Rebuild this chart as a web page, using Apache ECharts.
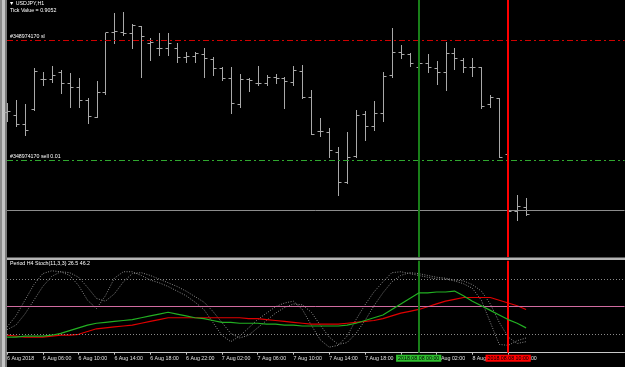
<!DOCTYPE html>
<html><head><meta charset="utf-8">
<script src="https://cdn.jsdelivr.net/npm/echarts@6/dist/echarts.min.js"></script>
<style>html,body{margin:0;padding:0;background:#000;}#c{width:625px;height:367px;}</style>
</head><body><div id="c"></div>
<script>
// USDJPY H1 bars, index = hours since 6 Aug 2018 02:00
const barOpen  = [111.488,111.485,111.476,111.491,111.521,111.521,111.528,111.517,111.513,111.500,111.483,111.508,111.568,111.568,111.567,111.574,111.557,111.552,111.552,111.552,111.543,111.544,111.546,111.541,111.532,111.522,111.496,111.521,111.517,111.517,111.523,111.522,111.518,111.529,111.503,111.469,111.468,111.448,111.418,111.444,111.486,111.474,111.487,111.525,111.548,111.546,111.533,111.537,111.532,111.528,111.547,111.540,111.533,111.533,111.496,111.502,111.446,111.389,111.393];
const barHigh  = [111.497,111.500,111.496,111.532,111.528,111.534,111.530,111.527,111.522,111.502,111.519,111.567,111.587,111.588,111.576,111.574,111.562,111.567,111.567,111.557,111.548,111.548,111.552,111.543,111.533,111.533,111.526,111.522,111.534,111.525,111.526,111.523,111.534,111.535,111.510,111.482,111.472,111.453,111.468,111.490,111.489,111.499,111.528,111.572,111.555,111.547,111.545,111.546,111.539,111.558,111.552,111.542,111.542,111.533,111.505,111.502,111.448,111.405,111.402];
const barLow   = [111.479,111.474,111.465,111.490,111.515,111.518,111.507,111.493,111.493,111.477,111.483,111.506,111.557,111.565,111.552,111.523,111.540,111.545,111.545,111.538,111.538,111.538,111.523,111.525,111.520,111.487,111.493,111.509,111.515,111.515,111.517,111.492,111.515,111.502,111.466,111.464,111.443,111.405,111.417,111.443,111.460,111.470,111.479,111.523,111.542,111.534,111.523,111.528,111.516,111.510,111.531,111.528,111.524,111.492,111.493,111.443,111.387,111.380,111.385];
const barClose = [111.489,111.476,111.470,111.529,111.521,111.525,111.517,111.513,111.500,111.484,111.508,111.568,111.569,111.567,111.575,111.564,111.558,111.552,111.557,111.543,111.544,111.547,111.542,111.532,111.522,111.497,111.521,111.520,111.517,111.523,111.522,111.519,111.530,111.503,111.466,111.469,111.450,111.418,111.443,111.485,111.474,111.487,111.524,111.548,111.546,111.537,111.537,111.533,111.528,111.547,111.542,111.533,111.533,111.494,111.503,111.443,111.389,111.394,111.386];

// Stochastic values per bar
const stochMain   = [28,40,57,74,86,89,88,84,73,57,48,62,81,88,88,84,79,76,72,67,62,55,47,33,19,12,18,27,36,43,50,54,56,47,30,14,6,8,18,36,52,66,77,87,88,86,84,82,80,80,78,75,70,57,33,9,8,13,16];
const stochSignal = [25,30,42,57,72,83,88,87,82,71,59,56,64,77,86,87,84,80,76,72,67,61,55,45,33,21,16,19,27,35,43,49,53,52,44,30,17,9,11,21,35,51,65,77,84,87,86,84,82,81,79,78,74,67,53,33,17,10,12];
const h4Main      = [17,17,18,18,18,19,21,24,27,30,32,33,34,35,36,38,40,42,44,42,40,38,37,35,33,33,32,32,32,31,31,30,30,29,29,29,29,29,30,32,35,38,41,47,53,59,65,65,66,66,67,62,56,51,46,41,36,32,27];
const h4Signal    = [19,18,17,17,17,18,19,19,20,23,26,27,28,29,30,32,34,36,38,38,38,38,38,38,38,38,38,37,37,36,35,34,33,32,31,31,31,31,32,33,34,35,37,40,43,45,47,50,53,56,58,60,60,60,60,57,54,51,47];
const stochLevels = [80, 20];
const stochMid = 50;

// time axis
const tickHours  = [0,4,8,12,16,20,24,28,32,36,40,44,48,52,56];
const tickLabels = ['6 Aug 2018','6 Aug 06:00','6 Aug 10:00','6 Aug 14:00','6 Aug 18:00','6 Aug 22:00','7 Aug 02:00','7 Aug 06:00','7 Aug 10:00','7 Aug 14:00','7 Aug 18:00','7 Aug 22:00','8 Aug 02:00','8 Aug 06:00','8 Aug 10:00'];

// order / marker lines
const slPrice = 111.557, sellPrice = 111.439, bidPrice = 111.386;
const greenMarkerHour = 46, greenMarkerLabel = '2018.08.08 00:00';
const redMarkerHour = 56, redMarkerLabel = '2018.08.08 10:00';

const FONT = 'Liberation Sans';
const FS = 5.3;

const ohlcData = barOpen.map((o, i) => [i, o, barHigh[i], barLow[i], barClose[i]]);
const idx = barOpen.map((_, i) => i);

function renderOHLC(params, api) {
  const t = api.value(0);
  const pO = api.coord([t, api.value(1)]);
  const pH = api.coord([t, api.value(2)]);
  const pL = api.coord([t, api.value(3)]);
  const pC = api.coord([t, api.value(4)]);
  const x = Math.round(pH[0]) + 0.5;
  const st = { stroke: '#a9a9a9', lineWidth: 1 };
  const yo = Math.round(pO[1]) + 0.5, yc = Math.round(pC[1]) + 0.5;
  return { type: 'group', children: [
    { type: 'line', shape: { x1: x, y1: Math.round(pH[1]), x2: x, y2: Math.round(pL[1]) + 1 }, style: st },
    { type: 'line', shape: { x1: x - 3, y1: yo, x2: x, y2: yo }, style: st },
    { type: 'line', shape: { x1: x, y1: yc, x2: x + 3, y2: yc }, style: st }
  ]};
}

const vLine = (hour, color) => ({ xAxis: hour, lineStyle: { color: color, width: 2, type: 'solid' } });

const chart = echarts.init(document.getElementById('c'), null, { renderer: 'canvas' });
chart.setOption({
  backgroundColor: '#000',
  animation: false,
  textStyle: { fontFamily: FONT },
  grid: [
    { left: 7, top: 0, width: 617.55, height: 257 },
    { left: 7, top: 260.7, width: 617.55, height: 92 }
  ],
  xAxis: [
    { gridIndex: 0, type: 'value', min: 0, max: 69, show: false },
    { gridIndex: 1, type: 'value', min: 0, max: 69, interval: 4,
      axisLine: { show: true, lineStyle: { color: '#c8c8c8', width: 1 } },
      axisTick: { show: true, customValues: tickHours, length: 2, lineStyle: { color: '#c8c8c8' } },
      axisLabel: { show: true, customValues: tickHours, color: '#e0e0e0', fontSize: FS, fontFamily: FONT, align: 'left', margin: 3,
        formatter: v => { const k = tickHours.indexOf(v); return k >= 0 ? tickLabels[k] : ''; } },
      splitLine: { show: false } }
  ],
  yAxis: [
    { gridIndex: 0, type: 'value', min: 111.343, max: 111.600, show: false },
    { gridIndex: 1, type: 'value', min: 0, max: 100, show: false }
  ],
  graphic: [
    { type: 'rect', left: 0, top: 0, shape: { width: 2, height: 367 }, style: { fill: '#8c8c8c' }, silent: true },
    { type: 'rect', left: 2, top: 0, shape: { width: 3, height: 367 }, style: { fill: '#c4c4c4' }, silent: true },
    { type: 'rect', left: 5, top: 0, shape: { width: 2, height: 367 }, style: { fill: '#7a7a7a' }, silent: true },
    { type: 'rect', left: 7, top: 257.5, shape: { width: 618, height: 2.5 }, style: { fill: '#b4b4b4' }, silent: true },
    { type: 'text', left: 9, top: 1, style: { text: '\u25BC USDJPY,H1', fill: '#ffffff', font: FS + 'px ' + FONT }, silent: true },
    { type: 'text', left: 10, top: 8, style: { text: 'Tick Value = 0.9052', fill: '#ffffff', font: FS + 'px ' + FONT }, silent: true },
    { type: 'text', left: 10, top: 261.5, style: { text: 'Period H4 Stoch(11,3,3) 26.5 46.2', fill: '#ffffff', font: FS + 'px ' + FONT }, silent: true }
  ],
  series: [
    { type: 'line', xAxisIndex: 0, yAxisIndex: 0, data: idx.map(i => [i, barClose[i]]), symbol: 'none',
      lineStyle: { opacity: 0 }, silent: true, z: 1,
      markLine: { silent: true, symbol: 'none', animation: false,
        data: [
          { yAxis: slPrice, lineStyle: { color: '#d00000', width: 1, type: [6, 3, 2, 3] },
            label: { show: true, position: 'insideStartTop', formatter: '#348974170 sl', color: '#ffffff', fontSize: FS, fontFamily: FONT, distance: [3, 1] } },
          { yAxis: sellPrice, lineStyle: { color: '#2fa82f', width: 1, type: [6, 3, 2, 3] },
            label: { show: true, position: 'insideStartTop', formatter: '#348974170 sell 0.01', color: '#ffffff', fontSize: FS, fontFamily: FONT, distance: [3, 1] } },
          { yAxis: bidPrice, lineStyle: { color: '#8c8c8c', width: 1, type: 'solid' }, label: { show: false } },
          Object.assign(vLine(greenMarkerHour, '#197f19'), { label: { show: false } }),
          Object.assign(vLine(redMarkerHour, '#ff0000'), { label: { show: false } })
        ] } },
    { type: 'custom', xAxisIndex: 0, yAxisIndex: 0, renderItem: renderOHLC, data: ohlcData,
      encode: { x: 0, y: [1, 2, 3, 4] }, silent: true, z: 3 },
    { type: 'line', xAxisIndex: 1, yAxisIndex: 1, data: idx.map(i => [i, stochMain[i]]), symbol: 'none',
      lineStyle: { color: '#8a8a8a', width: 1, type: [1, 1.5] }, silent: true, z: 3,
      markLine: { silent: true, symbol: 'none', animation: false,
        data: [
          { yAxis: stochLevels[0], lineStyle: { color: '#8a8a8a', width: 1, type: [1, 2] }, label: { show: false } },
          { yAxis: stochLevels[1], lineStyle: { color: '#8a8a8a', width: 1, type: [1, 2] }, label: { show: false } },
          { yAxis: stochMid, lineStyle: { color: '#d06ca0', width: 1, type: 'solid' }, label: { show: false } },
          Object.assign(vLine(greenMarkerHour, '#197f19'), { label: { show: true, position: 'start', formatter: greenMarkerLabel,
            color: '#000', backgroundColor: '#2fbf2f', fontSize: FS, fontFamily: FONT, padding: [1, 2], distance: 2 } }),
          Object.assign(vLine(redMarkerHour, '#ff0000'), { label: { show: true, position: 'start', formatter: redMarkerLabel,
            color: '#000', backgroundColor: '#ff0000', fontSize: FS, fontFamily: FONT, padding: [1, 2], distance: 2 } })
        ] } },
    { type: 'line', xAxisIndex: 1, yAxisIndex: 1, data: idx.map(i => [i, stochSignal[i]]), symbol: 'none',
      lineStyle: { color: '#8a8a8a', width: 1, type: [1, 1.5] }, silent: true, z: 3 },
    { type: 'line', xAxisIndex: 1, yAxisIndex: 1, data: idx.map(i => [i, h4Signal[i]]), symbol: 'none',
      lineStyle: { color: '#e00000', width: 1.2 }, silent: true, z: 4 },
    { type: 'line', xAxisIndex: 1, yAxisIndex: 1, data: idx.map(i => [i, h4Main[i]]), symbol: 'none',
      lineStyle: { color: '#22b022', width: 1.2 }, silent: true, z: 5 }
  ]
});
</script>
</body></html>
